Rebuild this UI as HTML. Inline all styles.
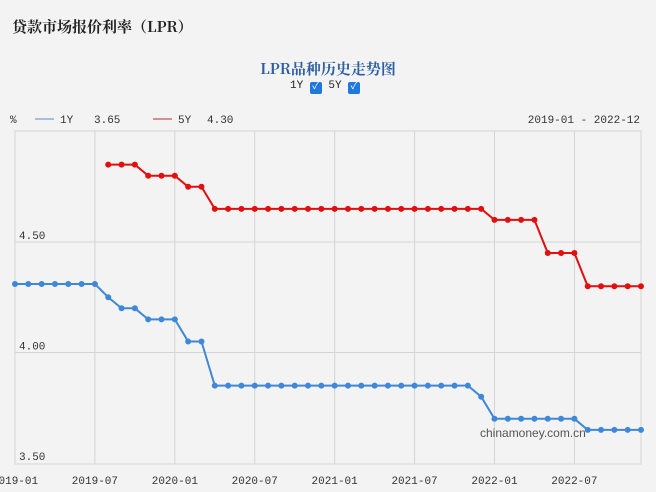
<!DOCTYPE html>
<html><head><meta charset="utf-8"><style>
body{margin:0;background:#f3f3f3;width:656px;height:492px;overflow:hidden;font-family:"Liberation Mono","Noto Sans CJK SC",monospace}
.t{position:absolute;white-space:nowrap}
</style></head><body>
<div class="t" style="left:12px;top:16px;font-size:15px;color:#222;font-family:'Noto Serif CJK SC','Noto Sans CJK SC',serif;font-weight:bold">贷款市场报价利率（LPR）</div>
<div class="t" style="left:0;width:656px;text-align:center;top:58px;font-size:15px;color:#2e5fa3;font-weight:bold;font-family:'Noto Serif CJK SC','Noto Sans CJK SC',serif">LPR品种历史走势图</div>
<div class="t" style="left:290px;top:80px;font-size:11px;color:#222">1Y <span style="display:inline-block;width:12px;height:12px;background:#1e78e0;border-radius:2px;color:#fff;font-size:10px;line-height:12px;text-align:center;vertical-align:-1px">✓</span> 5Y <span style="display:inline-block;width:12px;height:12px;background:#1e78e0;border-radius:2px;color:#fff;font-size:10px;line-height:12px;text-align:center;vertical-align:-1px">✓</span></div>
<svg id="c" width="656" height="492" style="position:absolute;left:0;top:0" xmlns="http://www.w3.org/2000/svg"></svg>
<script>
const months=48;
const xTicks=["2019-01","2019-07","2020-01","2020-07","2021-01","2021-07","2022-01","2022-07"];
const yTicks=[4.5,4.0,3.5];
const y1=[4.31,4.31,4.31,4.31,4.31,4.31,4.31,4.25,4.20,4.20,4.15,4.15,4.15,4.05,4.05,3.85,3.85,3.85,3.85,3.85,3.85,3.85,3.85,3.85,3.85,3.85,3.85,3.85,3.85,3.85,3.85,3.85,3.85,3.85,3.85,3.80,3.70,3.70,3.70,3.70,3.70,3.70,3.70,3.65,3.65,3.65,3.65,3.65];
const y5=[null,null,null,null,null,null,null,4.85,4.85,4.85,4.80,4.80,4.80,4.75,4.75,4.65,4.65,4.65,4.65,4.65,4.65,4.65,4.65,4.65,4.65,4.65,4.65,4.65,4.65,4.65,4.65,4.65,4.65,4.65,4.65,4.65,4.60,4.60,4.60,4.60,4.45,4.45,4.45,4.30,4.30,4.30,4.30,4.30];
const L=15,R=641,T=131,B=464;
const X=i=>L+i*(R-L)/(months-1);
const Y=v=>242+(4.5-v)*221;
const s=document.getElementById('c');
function el(t,a,txt){const e=document.createElementNS('http://www.w3.org/2000/svg',t);for(const k in a)e.setAttribute(k,a[k]);if(txt!=null)e.textContent=txt;s.appendChild(e);return e;}
let e=el('rect',{x:L,y:T,width:R-L,height:B-T,fill:'#f3f3f3',stroke:'#d4d4d4'});


xTicks.forEach((t,i)=>{const x=X(i*6);
 if(i>0){const g=el('line',{x1:x,x2:x,y1:T,y2:B,stroke:'#d4d4d4'});
 
 }
 const l=el('text',{x:x,y:484,'text-anchor':'middle','font-size':11,fill:'#333','font-family':'Liberation Mono,monospace'},t);
 
 });
yTicks.forEach(v=>{const y=Y(v);
 if(v>3.5){const g=el('line',{x1:L,x2:R,y1:y,y2:y,stroke:'#d4d4d4'});
 
 }
 const l=el('text',{x:19,y:y-3,'font-size':11,fill:'#333','font-family':'Liberation Mono,monospace'},v.toFixed(2));
 
 });
const wm=el('text',{x:480,y:437,'font-size':12,fill:'#555','font-family':'Liberation Sans,sans-serif'},'chinamoney.com.cn');


function series(d,c,n){let p='';d.forEach((v,i)=>{if(v==null)return;p+=(p?'L':'M')+X(i)+' '+Y(v);});
 const pl=el('path',{d:p,fill:'none',stroke:c,'stroke-width':2});
 
 
 d.forEach((v,i)=>{if(v==null)return;const m=el('circle',{cx:X(i),cy:Y(v),r:3,fill:c});
 
 });}
series(y1,'#3f88d8','series-1y');
series(y5,'#e30e0e','series-5y');
const lg=[['%',10,null],['1Y',60,'#a6bfdc'],['3.65',94,null],['5Y',178,'#d88e8e'],['4.30',207,null]];
lg.forEach(a=>{const t=el('text',{x:a[1],y:123,'font-size':11,fill:'#333','font-family':'Liberation Mono,monospace'},a[0]);
 
 
 if(a[2]){const ln=el('line',{x1:a[1]-25,x2:a[1]-6,y1:119,y2:119,stroke:a[2],'stroke-width':2});
 
 }});
const dr=el('text',{x:640,y:123,'text-anchor':'end','font-size':11,fill:'#333','font-family':'Liberation Mono,monospace'},'2019-01 - 2022-12');


</script>
</body></html>
